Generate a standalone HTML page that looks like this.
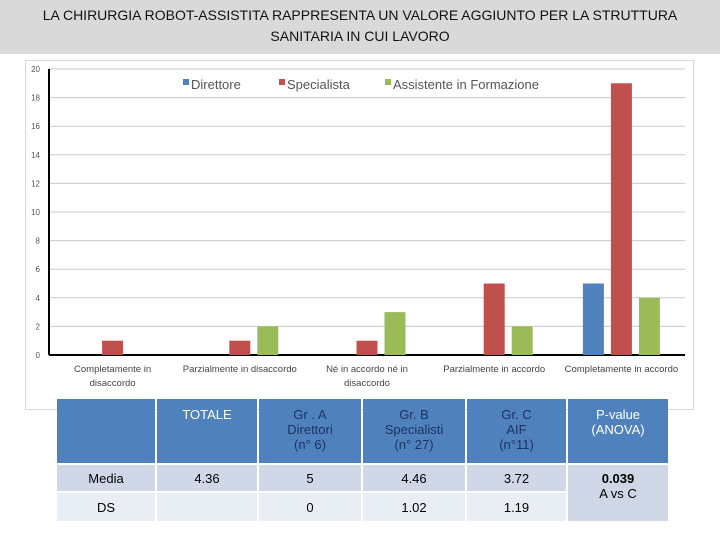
<!DOCTYPE html>
<html><head><meta charset="utf-8"><style>
body{margin:0;width:720px;height:540px;background:#fff;font-family:"Liberation Sans",sans-serif;position:relative;overflow:hidden}
#title{position:absolute;left:0;top:0;width:720px;height:54px;background:#d9d9d9;text-align:center;font-size:14px;line-height:21px;padding-top:5px;box-sizing:border-box;color:#111}
#frame{position:absolute;left:25px;top:60px;width:669px;height:350px;border:1px solid #d9d9d9;box-sizing:border-box}
table{position:absolute;left:55px;top:397px;border-collapse:separate;border-spacing:2px;font-size:13px;text-align:center}
td{padding:0}
.h{background:#4f81bd;color:#fff;vertical-align:top;padding-top:8px;height:56px}
.h2{color:#1c3464}
.r1{background:#d0d8e8;height:26px}
.r2{background:#e9edf4;height:28px}
</style></head><body>
<div id="title">LA CHIRURGIA ROBOT-ASSISTITA RAPPRESENTA UN VALORE AGGIUNTO PER LA STRUTTURA<br>SANITARIA IN CUI LAVORO</div>
<div id="frame"></div>
<svg id="chart" width="720" height="400" style="position:absolute;left:0;top:0"></svg>
<table>
<tr><td class="h" style="width:98px"></td><td class="h" style="width:100px">TOTALE</td><td class="h h2" style="width:102px">Gr . A<br>Direttori<br>(n° 6)</td><td class="h h2" style="width:102px">Gr. B<br>Specialisti<br>(n° 27)</td><td class="h h2" style="width:99px">Gr. C<br>AIF<br>(n°11)</td><td class="h" style="width:100px">P-value<br>(ANOVA)</td></tr>
<tr><td class="r1">Media</td><td class="r1">4.36</td><td class="r1">5</td><td class="r1">4.46</td><td class="r1">3.72</td><td class="r1" rowspan="2" style="background:#cfd6e6;vertical-align:top;padding-top:6px"><b>0.039</b><br>A vs C</td></tr>
<tr><td class="r2">DS</td><td class="r2"></td><td class="r2">0</td><td class="r2">1.02</td><td class="r2">1.19</td></tr>
</table>
<script>
const categories=[["Completamente in","disaccordo"],["Parzialmente in disaccordo"],["Né in accordo né in","disaccordo"],["Parzialmente in accordo"],["Completamente in accordo"]];
const seriesNames=["Direttore","Specialista","Assistente in Formazione"];
const direttore=[0,0,0,0,5];
const specialista=[1,1,1,5,19];
const assistente=[0,2,3,2,4];
const yTicks=[0,2,4,6,8,10,12,14,16,18,20];
const colors=["#4f81bd","#c0504d","#9bbb59"];
const NS="http://www.w3.org/2000/svg";
const svg=document.getElementById("chart");
const x0=49,x1=685,yb=355,yt=69,ymax=20;
const y=v=>yb-(v/ymax)*(yb-yt);
const cw=(x1-x0)/categories.length;
const cx=i=>x0+cw*(i+0.5);
function mk(t,a){const e=document.createElementNS(NS,t);for(const k in a)e.setAttribute(k,a[k]);svg.appendChild(e);return e;}
yTicks.forEach(v=>{
 const l=mk("line",{x1:x0,x2:x1,y1:y(v),y2:y(v),stroke:"#c8c8c8","stroke-width":1});
 
 
 const t=mk("text",{x:40,y:y(v)+3,"font-size":8,fill:"#555","text-anchor":"end"});t.textContent=v;
 
 
});
const ax=mk("line",{x1:x0,x2:x0,y1:yt,y2:yb,stroke:"#000","stroke-width":2});


const bx=mk("line",{x1:x0,x2:x1,y1:yb,y2:yb,stroke:"#000","stroke-width":2});


const series=[direttore,specialista,assistente];
series.forEach((s,si)=>s.forEach((v,i)=>{
 if(v<=0)return;
 const c=cx(i)+(si-1)*28;
 const r=mk("rect",{x:c-10.5,y:y(v),width:21,height:yb-y(v),fill:colors[si]});
 
 
}));
categories.forEach((lines,i)=>{
 lines.forEach((ln,j)=>{
  const t=mk("text",{x:cx(i),y:372+j*14,"font-size":9.5,fill:"#444","text-anchor":"middle"});t.textContent=ln;
  
  
 });
});
const legX=[183,279,385];
seriesNames.forEach((n,i)=>{
 const r=mk("rect",{x:legX[i],y:79,width:6,height:6,fill:colors[i]});
 
 
 const t=mk("text",{x:legX[i]+8,y:89,"font-size":13,fill:"#555"});t.textContent=n;
 
 
});
</script>
</body></html>
